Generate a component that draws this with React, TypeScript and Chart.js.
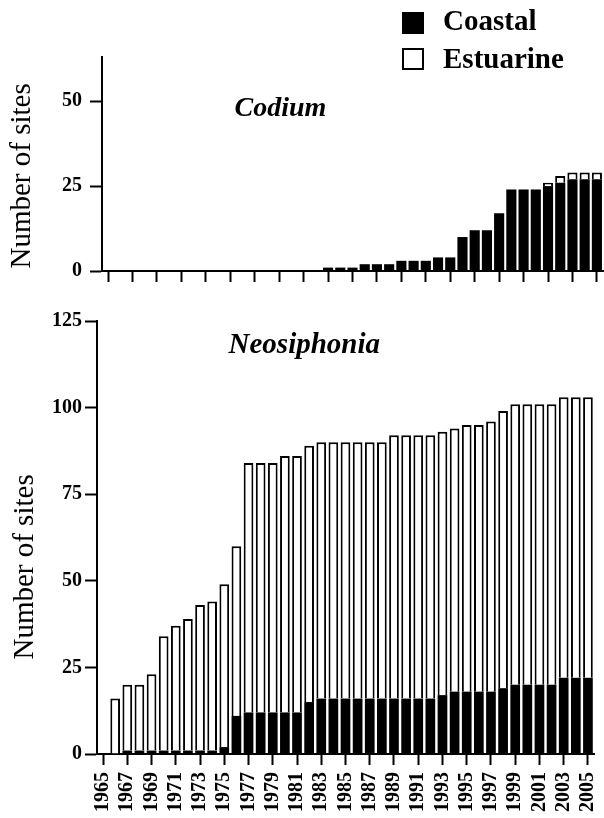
import React, { useEffect, useRef } from 'react';
import { Chart, registerables } from 'chart.js';
Chart.register(...registerables);

const years = [
  '1965', '1966', '1967', '1968', '1969', '1970', '1971', '1972', '1973', '1974',
  '1975', '1976', '1977', '1978', '1979', '1980', '1981', '1982', '1983', '1984',
  '1985', '1986', '1987', '1988', '1989', '1990', '1991', '1992', '1993', '1994',
  '1995', '1996', '1997', '1998', '1999', '2000', '2001', '2002', '2003', '2004', '2005',
];

const codiumCoastal = [
  0, 0, 0, 0, 0, 0, 0, 0, 0, 0,
  0, 0, 0, 0, 0, 0, 0, 0, 1, 1,
  1, 2, 2, 2, 3, 3, 3, 4, 4, 10,
  12, 12, 17, 24, 24, 24, 25, 26, 27, 27, 27,
];
const codiumEstuarine = [
  0, 0, 0, 0, 0, 0, 0, 0, 0, 0,
  0, 0, 0, 0, 0, 0, 0, 0, 0, 0,
  0, 0, 0, 0, 0, 0, 0, 0, 0, 0,
  0, 0, 0, 0, 0, 0, 1, 2, 2, 2, 2,
];

const neoCoastal = [
  0, 0, 1, 1, 1, 1, 1, 1, 1, 1,
  2, 11, 12, 12, 12, 12, 12, 15, 16, 16,
  16, 16, 16, 16, 16, 16, 16, 16, 17, 18,
  18, 18, 18, 19, 20, 20, 20, 20, 22, 22, 22,
];
const neoEstuarine = [
  0, 16, 19, 19, 22, 33, 36, 38, 42, 43,
  47, 49, 72, 72, 72, 74, 74, 74, 74, 74,
  74, 74, 74, 74, 76, 76, 76, 76, 76, 76,
  77, 77, 78, 80, 81, 81, 81, 81, 81, 81, 81,
];

const seriesNames = ['Coastal', 'Estuarine'];
const codiumTitle = 'Codium';
const neoTitle = 'Neosiphonia';
const yAxisTitle = 'Number of sites';

const SERIF = '"Liberation Serif", "Times New Roman", serif';

const textPlugin = {
  id: 'panelText',
  afterDraw(chart: any, _args: any, opts: any) {
    const items = (opts && opts.items) || [];
    const ctx = chart.ctx;
    const xs = chart.scales.x;
    const ys = chart.scales.y;
    items.forEach((it: any) => {
      ctx.save();
      ctx.font = it.font;
      ctx.fillStyle = '#000';
      const px = it.xIndex !== undefined ? xs.getPixelForValue(it.xIndex) : chart.chartArea.left + it.dx;
      const py = ys.getPixelForValue(it.yValue);
      ctx.translate(px, py);
      if (it.rotate) ctx.rotate(-Math.PI / 2);
      ctx.textAlign = 'center';
      ctx.textBaseline = it.baseline || 'alphabetic';
      ctx.fillText(it.text, 0, 0);
      ctx.restore();
    });
  },
};

function makeConfig(p: {
  coastal: number[];
  estuarine: number[];
  yMax: number;
  yStep: number;
  showLabels: boolean;
  yWidth: number;
  xHeight: number;
  padding: any;
  yTickLen: number;
  yTickPad: number;
  barPct: number;
  items: any[];
}): any {
  return {
    type: 'bar',
    data: {
      labels: years,
      datasets: [
        {
          label: seriesNames[0],
          data: p.coastal,
          backgroundColor: '#000',
          borderWidth: 0,
          barPercentage: p.barPct,
          categoryPercentage: 1,
        },
        {
          label: seriesNames[1],
          data: p.estuarine,
          backgroundColor: '#fff',
          borderColor: '#000',
          borderWidth: 2,
          barPercentage: p.barPct,
          categoryPercentage: 1,
        },
      ],
    },
    options: {
      responsive: false,
      animation: false,
      devicePixelRatio: 1,
      layout: { padding: p.padding },
      plugins: {
        legend: { display: false },
        tooltip: { enabled: false },
        title: { display: false },
        panelText: { items: p.items },
      },
      scales: {
        x: {
          stacked: true,
          offset: true,
          grid: {
            offset: false,
            drawOnChartArea: false,
            drawTicks: true,
            tickLength: 11,
            tickWidth: 2,
            tickColor: (c: any) => (c.index % 2 === 0 ? '#000' : 'rgba(0,0,0,0)'),
          },
          border: { display: true, color: '#000', width: 2 },
          ticks: {
            autoSkip: false,
            maxRotation: 90,
            minRotation: 90,
            padding: 7,
            color: '#000',
            font: { family: SERIF, size: 20, weight: 'bold' },
            callback: (_v: any, i: number) => (p.showLabels && i % 2 === 0 ? years[i] : ''),
          },
          afterFit: (s: any) => {
            s.height = p.xHeight;
            s.paddingLeft = 0;
            s.paddingRight = 0;
          },
        },
        y: {
          stacked: true,
          min: 0,
          max: p.yMax,
          ticks: {
            stepSize: p.yStep,
            includeBounds: false,
            padding: p.yTickPad,
            color: '#000',
            font: { family: SERIF, size: 20, weight: 'bold' },
          },
          grid: {
            drawOnChartArea: false,
            drawTicks: true,
            tickLength: p.yTickLen,
            tickWidth: 2,
            tickColor: '#000',
          },
          border: { display: true, color: '#000', width: 2 },
          afterFit: (s: any) => {
            s.width = p.yWidth;
            s.paddingTop = 0;
            s.paddingBottom = 0;
          },
        },
      },
    },
    plugins: [textPlugin],
  };
}

export default function App() {
  const topRef = useRef<HTMLCanvasElement>(null);
  const botRef = useRef<HTMLCanvasElement>(null);

  useEffect(() => {
    const c1 = new Chart(
      topRef.current as HTMLCanvasElement,
      makeConfig({
        coastal: codiumCoastal,
        estuarine: codiumEstuarine,
        yMax: 63,
        yStep: 25,
        showLabels: false,
        yWidth: 102,
        xHeight: 19,
        padding: { top: 57, right: 1, left: 0, bottom: 0 },
        yTickLen: 12,
        yTickPad: 8,
        barPct: 0.83,
        items: [
          { text: codiumTitle, font: `italic bold 28px ${SERIF}`, xIndex: 14.1, yValue: 45.6 },
          { text: yAxisTitle, font: `29px ${SERIF}`, dx: -80, yValue: 28, rotate: true, baseline: 'middle' },
        ],
      })
    );
    const c2 = new Chart(
      botRef.current as HTMLCanvasElement,
      makeConfig({
        coastal: neoCoastal,
        estuarine: neoEstuarine,
        yMax: 125,
        yStep: 25,
        showLabels: true,
        yWidth: 97,
        xHeight: 64,
        padding: { top: 31, right: 10, left: 0, bottom: 0 },
        yTickLen: 12,
        yTickPad: 3,
        barPct: 0.8,
        items: [
          { text: neoTitle, font: `italic bold 29px ${SERIF}`, xIndex: 16.6, yValue: 115.7 },
          { text: yAxisTitle, font: `29px ${SERIF}`, dx: -72, yValue: 54, rotate: true, baseline: 'middle' },
        ],
      })
    );
    return () => {
      c1.destroy();
      c2.destroy();
    };
  }, []);

  const legendText: React.CSSProperties = {
    position: 'absolute',
    left: 443,
    fontFamily: SERIF,
    fontWeight: 'bold',
    fontSize: 29,
    lineHeight: '29px',
    color: '#000',
    whiteSpace: 'nowrap',
  };
  const box: React.CSSProperties = {
    position: 'absolute',
    left: 402,
    width: 22,
    height: 22,
    boxSizing: 'border-box',
    border: '2px solid #000',
  };

  return (
    <div style={{ position: 'absolute', left: 0, top: 0, width: 604, height: 818, background: '#fff', overflow: 'hidden' }}>
      <canvas ref={topRef} width={604} height={290} style={{ position: 'absolute', left: 0, top: 0 }} />
      <canvas ref={botRef} width={604} height={528} style={{ position: 'absolute', left: 0, top: 290 }} />
      <div style={{ ...box, top: 12, background: '#000' }} />
      <div style={{ ...legendText, top: 6 }}>{seriesNames[0]}</div>
      <div style={{ ...box, top: 48, background: '#fff' }} />
      <div style={{ ...legendText, top: 44 }}>{seriesNames[1]}</div>
    </div>
  );
}
